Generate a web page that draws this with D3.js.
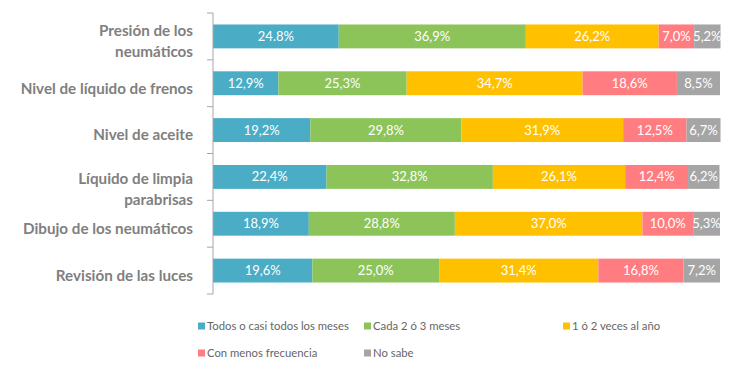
<!DOCTYPE html>
<html>
<head>
<meta charset="utf-8">
<script src="https://cdn.jsdelivr.net/npm/d3@7"></script>
<style>
    body { margin: 0; background: #fff; }
    .cat text { font-family: Lato, "Liberation Sans", sans-serif; font-weight: bold; font-size: 15.2px; fill: #7f7f7f; }
    .seg-label { font-family: Lato, "Liberation Sans", sans-serif; font-size: 13px; fill: #fff; }
    .legend text { font-family: Lato, "Liberation Sans", sans-serif; font-size: 11.3px; fill: #666; }
</style>
</head>
<body>
<script>
//chart data
var categories = [
    ["Presión de los", "neumáticos"],
    ["Nivel de líquido de frenos"],
    ["Nivel de aceite"],
    ["Líquido de limpia", "parabrisas"],
    ["Dibujo de los neumáticos"],
    ["Revisión de las luces"]
];
var seriesNames = ["Todos o casi todos los meses", "Cada 2 ó 3 meses", "1 ó 2 veces al año", "Con menos frecuencia", "No sabe"];
var todosMeses = [24.8, 12.9, 19.2, 22.4, 18.9, 19.6];
var cada2o3 = [36.9, 25.3, 29.8, 32.8, 28.8, 25.0];
var vecesAno = [26.2, 34.7, 31.9, 26.1, 37.0, 31.4];
var menosFrec = [7.0, 18.6, 12.5, 12.4, 10.0, 16.8];
var noSabe = [5.2, 8.5, 6.7, 6.2, 5.3, 7.2];
var colors = ["#4bacc6", "#8cc45a", "#ffc000", "#ff7c80", "#a5a5a5"];

window.onload = drawChart;

function drawChart(){
    var width = 748,
        height = 384;

    var svg = d3.select("body")
        .append("svg")
        .attr("width", width)
        .attr("height", height);

    var series = [todosMeses, cada2o3, vecesAno, menosFrec, noSabe];

    //build rows for the stack layout
    var rows = categories.map(function(c, i){
        var r = { idx: i };
        seriesNames.forEach(function(s, j){ r[s] = series[j][i]; });
        return r;
    });
    var stacked = d3.stack().keys(seriesNames)(rows);

    var x = d3.scaleLinear().domain([0, 100]).range([213, 720]);
    var y = d3.scaleBand().domain(d3.range(categories.length)).range([13, 294]).paddingInner(0.49).paddingOuter(0.245);

    //bars
    var layer = svg.selectAll(".layer")
        .data(stacked)
        .enter()
        .append("g")
        .attr("class", "layer")
        .attr("fill", function(d, i){ return colors[i]; });

    layer.selectAll("rect")
        .data(function(d){ return d; })
        .enter()
        .append("rect")
        .attr("x", function(d){ return x(d[0]); })
        .attr("y", function(d){ return y(d.data.idx); })
        .attr("width", function(d){ return x(d[1]) - x(d[0]); })
        .attr("height", y.bandwidth());

    //value labels (first one uses a dot in the original)
    var fmt = function(v, i, j){
        var s = v.toFixed(1);
        if (!(i === 0 && j === 0)) s = s.replace(".", ",");
        return s + "%";
    };
    stacked.forEach(function(s, j){
        svg.selectAll(".lbl" + j)
            .data(s)
            .enter()
            .append("text")
            .attr("class", "seg-label")
            .attr("x", function(d){ return (x(d[0]) + x(d[1])) / 2; })
            .attr("y", function(d){ return y(d.data.idx) + y.bandwidth() / 2; })
            .attr("dy", "0.35em")
            .attr("text-anchor", "middle")
            .text(function(d){ return fmt(d[1] - d[0], d.data.idx, j); });
    });

    //category axis with ticks between bands
    var axisX = 213;
    var edges = d3.range(categories.length + 1).map(function(i){
        return 13 + i * (294 - 13) / categories.length;
    });
    var axis = svg.append("g").attr("class", "cat");
    axis.append("line")
        .attr("x1", axisX).attr("x2", axisX)
        .attr("y1", edges[0]).attr("y2", edges[edges.length - 1])
        .attr("stroke", "#a6a6a6");
    axis.selectAll(".tick")
        .data(edges)
        .enter()
        .append("line")
        .attr("x1", axisX - 6).attr("x2", axisX)
        .attr("y1", function(d){ return d; }).attr("y2", function(d){ return d; })
        .attr("stroke", "#a6a6a6");

    //labels sit a little under the bar centre, like the original
    var lineOffsets = { 0: [-6, 15], 3: [2, 23] };
    categories.forEach(function(lines, i){
        var cy = y(i) + y.bandwidth() / 2;
        var offs = lineOffsets[i] || [5];
        lines.forEach(function(t, k){
            axis.append("text")
                .attr("x", 193)
                .attr("y", cy + offs[k])
                .attr("dy", "0.35em")
                .attr("text-anchor", "end")
                .text(t);
        });
    });

    //legend
    var legendPos = [[198, 326], [364, 326], [563, 326], [198, 353], [364, 353]];
    var legend = svg.append("g").attr("class", "legend");
    var item = legend.selectAll("g")
        .data(seriesNames)
        .enter()
        .append("g")
        .attr("transform", function(d, i){ return "translate(" + legendPos[i][0] + "," + legendPos[i][1] + ")"; });
    item.append("rect")
        .attr("x", 0).attr("y", -3.5)
        .attr("width", 7).attr("height", 7)
        .attr("fill", function(d, i){ return colors[i]; });
    item.append("text")
        .attr("x", 9)
        .attr("dy", "0.35em")
        .text(function(d){ return d; });
}
</script>
</body>
</html>
